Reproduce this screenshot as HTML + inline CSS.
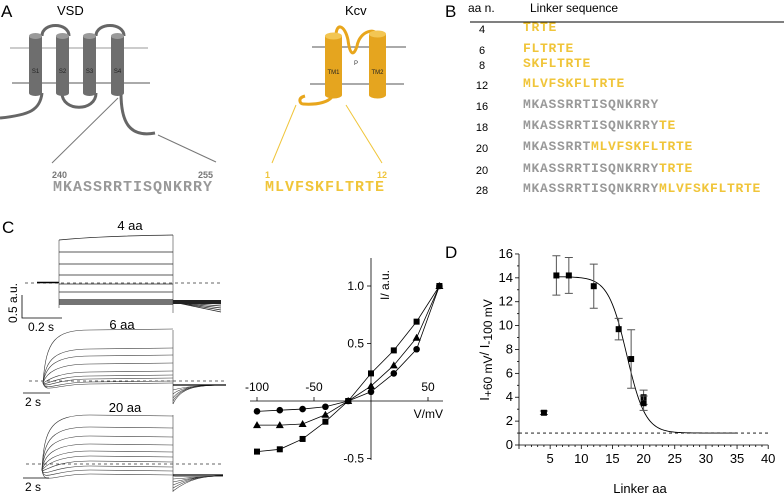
<!DOCTYPE html>
<html><head><meta charset="utf-8"><style>
body{margin:0;background:#fff;}
svg{display:block;font-family:"Liberation Sans",sans-serif;}
.mono{font-family:"Liberation Mono",monospace;font-weight:bold;}
</style></head><body>
<svg id="fig" width="784" height="497" viewBox="0 0 784 497">
<!-- Panel A -->
<g>
<text x="1" y="17" font-size="17">A</text>
<text x="57" y="15" font-size="13">VSD</text>
<line x1="10" y1="48" x2="148" y2="48" stroke="#999" stroke-width="1"/>
<line x1="12" y1="83" x2="150" y2="83" stroke="#555" stroke-width="1"/>
<path d="M42,36 C42,22 69,22 69,36 M96,36 C96,22 124,22 124,36 M62,93 C62,112 96,112 96,93 M0,118 C30,115 40,110 42,93 M121,93 C121,120 128,138 155,133" fill="none" stroke="#666" stroke-width="3"/>
<g>
<rect x="29" y="36" width="13" height="57" fill="#6e6e6e"/><ellipse cx="35.5" cy="36" rx="6.5" ry="3" fill="#9a9a9a"/><ellipse cx="35.5" cy="93" rx="6.5" ry="3" fill="#6e6e6e"/>
<rect x="56" y="36" width="13" height="57" fill="#6e6e6e"/><ellipse cx="62.5" cy="36" rx="6.5" ry="3" fill="#9a9a9a"/><ellipse cx="62.5" cy="93" rx="6.5" ry="3" fill="#6e6e6e"/>
<rect x="83" y="36" width="13" height="57" fill="#6e6e6e"/><ellipse cx="89.5" cy="36" rx="6.5" ry="3" fill="#9a9a9a"/><ellipse cx="89.5" cy="93" rx="6.5" ry="3" fill="#6e6e6e"/>
<rect x="111" y="36" width="13" height="57" fill="#6e6e6e"/><ellipse cx="117.5" cy="36" rx="6.5" ry="3" fill="#9a9a9a"/><ellipse cx="117.5" cy="93" rx="6.5" ry="3" fill="#6e6e6e"/>
<text x="35.5" y="73" font-size="6" text-anchor="middle" fill="#222">S1</text>
<text x="62.5" y="73" font-size="6" text-anchor="middle" fill="#222">S2</text>
<text x="89.5" y="73" font-size="6" text-anchor="middle" fill="#222">S3</text>
<text x="117.5" y="73" font-size="6" text-anchor="middle" fill="#222">S4</text>
</g>
<line x1="118" y1="98" x2="52" y2="163" stroke="#777" stroke-width="1"/>
<line x1="158" y1="135" x2="216" y2="162" stroke="#777" stroke-width="1"/>
<text x="52" y="178" font-size="9" font-weight="bold" fill="#777">240</text>
<text x="198" y="178" font-size="9" font-weight="bold" fill="#777">255</text>
<text x="53" y="191" class="mono" font-size="15" letter-spacing="1" fill="#999">MKASSRRTISQNKRRY</text>

<text x="345" y="15" font-size="13">Kcv</text>
<line x1="312" y1="47" x2="406" y2="47" stroke="#555" stroke-width="1"/>
<line x1="310" y1="84" x2="404" y2="84" stroke="#555" stroke-width="1"/>
<path d="M336,36 C336,22 345,25 348,40 C350,56 354,56 357,46 C360,30 376,28 377,35 M305,96 C297,98 300,104 303,104 C318,105 330,102 333,95" fill="none" stroke="#e8a61c" stroke-width="3"/>
<g>
<rect x="325" y="36" width="17" height="59" fill="#e5a51f"/><ellipse cx="333.5" cy="36" rx="8.5" ry="3.5" fill="#f3c653"/><ellipse cx="333.5" cy="95" rx="8.5" ry="3.5" fill="#e5a51f"/>
<rect x="369" y="34" width="17" height="61" fill="#e5a51f"/><ellipse cx="377.5" cy="34" rx="8.5" ry="3.5" fill="#f3c653"/><ellipse cx="377.5" cy="95" rx="8.5" ry="3.5" fill="#e5a51f"/>
<text x="333.5" y="74" font-size="6" text-anchor="middle" fill="#222">TM1</text>
<text x="377.5" y="74" font-size="6" text-anchor="middle" fill="#222">TM2</text>
<text x="356" y="65" font-size="6" text-anchor="middle" fill="#333">P</text>
</g>
<line x1="296" y1="105" x2="272" y2="163" stroke="#f0c53a" stroke-width="1"/>
<line x1="346" y1="105" x2="382" y2="163" stroke="#f0c53a" stroke-width="1"/>
<text x="265" y="178" font-size="9" font-weight="bold" fill="#f0c53a">1</text>
<text x="377" y="178" font-size="9" font-weight="bold" fill="#f0c53a">12</text>
<text x="265" y="191" class="mono" font-size="15" letter-spacing="1" fill="#f0c53a">MLVFSKFLTRTE</text>
</g>

<!-- Panel B -->
<g font-size="11">
<text x="445" y="17" font-size="17">B</text>
<text x="468" y="12" font-size="12">aa n.</text>
<text x="530" y="12" font-size="12">Linker sequence</text>
<line x1="470" y1="22" x2="784" y2="22" stroke="#000" stroke-width="1"/>
<g id="btable"></g>
</g>

<!-- Panel C -->
<g>
<text x="2" y="233" font-size="17">C</text>
<g id="traces"></g>
<g id="iv"></g>
</g>

<!-- Panel D -->
<g>
<text x="445" y="258" font-size="17">D</text>
<g id="dplot"></g>
</g>
</svg>
<script>
var NS="http://www.w3.org/2000/svg";
function mk(p,t,a){var e=document.createElementNS(NS,t);for(var k in a)e.setAttribute(k,a[k]);p.appendChild(e);return e;}

// Panel B data
var aaNums=[4,6,8,12,16,18,20,20,28];
var seqGray=["","","","","MKASSRRTISQNKRRY","MKASSRRTISQNKRRY","MKASSRRT","MKASSRRTISQNKRRY","MKASSRRTISQNKRRY"];
var seqYellow=["TRTE","FLTRTE","SKFLTRTE","MLVFSKFLTRTE","","TE","MLVFSKFLTRTE","TRTE","MLVFSKFLTRTE"];
var rowY=[33,54,69,89,110,131,152,174,194];

// IV data
var ivV=[-100,-80,-60,-40,-20,0,20,40,60];
var ivSquares=[-0.44,-0.42,-0.33,-0.18,0,0.24,0.44,0.69,1.0];
var ivTriangles=[-0.21,-0.21,-0.2,-0.12,0,0.13,0.31,0.55,1.0];
var ivCircles=[-0.09,-0.08,-0.07,-0.05,0,0.08,0.24,0.45,1.0];
var ivXTicks=[-100,-50,50];
var ivYTicks=[1.0,0.5,-0.5];

// D data
var linkerAa=[4,6,8,12,16,18,20,20];
var ratioMean=[2.7,14.2,14.2,13.3,9.7,7.2,4.0,3.5];
var ratioErr=[0.15,1.65,1.5,1.85,0.9,2.45,0.6,0.6];
var dXTicks=[5,10,15,20,25,30,35,40];
var dYTicks=[0,2,4,6,8,10,12,14,16];
var fitTop=[14.1], fitBottom=[1.0], fitMid=[17.3], fitSlope=[1.5];

// ---- Panel B
var bt=document.getElementById('btable');
for(var i=0;i<aaNums.length;i++){
  var n=mk(bt,'text',{x:482,y:rowY[i],'text-anchor':'middle','font-size':11});
  n.textContent=aaNums[i];
  
  
  var t=mk(bt,'text',{x:523,y:rowY[i]-2,'class':'mono','font-size':13,'letter-spacing':0.7});
  
  
  var s1=mk(t,'tspan',{fill:'#999'});s1.textContent=seqGray[i];
  var s2=mk(t,'tspan',{fill:'#f0c53a'});s2.textContent=seqYellow[i];
}

// ---- Traces (illustrative)
var tr=document.getElementById('traces');
function txt(p,x,y,s,fs,anc){var e=mk(p,'text',{x:x,y:y,'font-size':fs,'text-anchor':anc||'start'});e.textContent=s;return e;}
txt(tr,130,230,'4 aa',13,'middle');
txt(tr,122,329,'6 aa',13,'middle');
txt(tr,125,412,'20 aa',13,'middle');
// 4aa
mk(tr,'line',{x1:25,y1:283,x2:222,y2:283,stroke:'#333','stroke-dasharray':'3,3','stroke-width':0.8});
mk(tr,'line',{x1:37,y1:282.5,x2:59,y2:282.5,stroke:'#000','stroke-width':1.5});
mk(tr,'line',{x1:59,y1:240,x2:59,y2:308,stroke:'#444','stroke-width':0.6});
mk(tr,'line',{x1:173,y1:235,x2:173,y2:313,stroke:'#444','stroke-width':0.6});
mk(tr,'path',{d:'M59,240 Q100,236 173,235',fill:'none',stroke:'#222','stroke-width':0.8});
[252,264,275,284,292,300,302,304].forEach(function(y){mk(tr,'line',{x1:59,y1:y,x2:173,y2:y,stroke:'#222','stroke-width':y>298?1.3:0.8});});
[302,304,306,308,310,312].forEach(function(y){mk(tr,'line',{x1:173,y1:302,x2:221,y2:y,stroke:'#222','stroke-width':0.7});});
mk(tr,'rect',{x:173,y:300,width:48,height:4,fill:'#222'});
mk(tr,'polyline',{points:'22,295 22,318 62,318',fill:'none',stroke:'#000','stroke-width':0.8});
var sb=txt(tr,0,0,'0.5 a.u.',12,'middle');sb.setAttribute('transform','translate(17,303) rotate(-90)');
txt(tr,28,331,'0.2 s',12);
// 6aa
mk(tr,'line',{x1:29,y1:381,x2:225,y2:381,stroke:'#333','stroke-dasharray':'3,3','stroke-width':0.8});
[330,349,356,364,372,376,379,382,384].forEach(function(y){mk(tr,'path',{d:'M43,383 C46,'+(y+10)+' 55,'+y+' 90,'+y+' L173,'+(y-1),fill:'none',stroke:'#333','stroke-width':0.6});});
mk(tr,'line',{x1:173,y1:330,x2:173,y2:404,stroke:'#444','stroke-width':0.6});
[390,394,398,401,404].forEach(function(y){mk(tr,'path',{d:'M173,'+y+' C180,388 195,385 226,385',fill:'none',stroke:'#333','stroke-width':0.6});});
mk(tr,'line',{x1:173,y1:385,x2:226,y2:385,stroke:'#000','stroke-width':1.2});
mk(tr,'line',{x1:23,y1:393,x2:50,y2:393,stroke:'#000','stroke-width':0.8});
txt(tr,25,406,'2 s',12);
// 20aa
mk(tr,'line',{x1:26,y1:464,x2:223,y2:464,stroke:'#333','stroke-dasharray':'3,3','stroke-width':0.8});
[415,427,436,444,451,456,461,466,470,474].forEach(function(y){mk(tr,'path',{d:'M42,470 C44,'+(y+12)+' 52,'+y+' 90,'+y+' L173,'+(y+1),fill:'none',stroke:'#333','stroke-width':0.6});});
mk(tr,'line',{x1:173,y1:415,x2:173,y2:492,stroke:'#444','stroke-width':0.6});
[476,479,482,485,488,491].forEach(function(y){mk(tr,'path',{d:'M173,'+y+' C190,478 205,476 223,476',fill:'none',stroke:'#333','stroke-width':0.6});});
mk(tr,'line',{x1:173,y1:475,x2:223,y2:475,stroke:'#000','stroke-width':1.2});
mk(tr,'line',{x1:23,y1:478,x2:49,y2:478,stroke:'#000','stroke-width':0.8});
txt(tr,25,491,'2 s',12);

// ---- IV plot
var iv=document.getElementById('iv');
function ivx(v){return 371+(v/50)*57;}
function ivy(i){return 401-i*115;}
mk(iv,'line',{x1:250,y1:ivy(0),x2:443,y2:ivy(0),stroke:'#000','stroke-width':0.8});
mk(iv,'line',{x1:ivx(0),y1:258,x2:ivx(0),y2:460,stroke:'#000','stroke-width':0.8});
ivXTicks.forEach(function(v){
  mk(iv,'line',{x1:ivx(v),y1:ivy(0),x2:ivx(v),y2:ivy(0)-4,stroke:'#000','stroke-width':0.8});
  var e=txt(iv,ivx(v),ivy(0)-10,String(v),12,'middle');
  
  
});
ivYTicks.forEach(function(v){
  mk(iv,'line',{x1:ivx(0),y1:ivy(v),x2:ivx(0)-4,y2:ivy(v),stroke:'#000','stroke-width':0.8});
  var e=txt(iv,ivx(0)-7,ivy(v)+4,v.toFixed(1),12,'end');
  
  
});
var vl=txt(iv,443,418,'V/mV',12,'end');


var il=txt(iv,0,0,'I/ a.u.',12,'middle');il.setAttribute('transform','translate(389,285) rotate(-90)');


function ivSeries(vals,shape,name){
  var pts=ivV.map(function(v,i){return ivx(v)+','+ivy(vals[i]);}).join(' ');
  var pl=mk(iv,'polyline',{points:pts,fill:'none',stroke:'#000','stroke-width':0.8});
  
  
  ivV.forEach(function(v,i){
    var x=ivx(v),y=ivy(vals[i]),m;
    if(shape==='sq')m=mk(iv,'rect',{x:x-3,y:y-3,width:6,height:6,fill:'#000'});
    else if(shape==='tri')m=mk(iv,'polygon',{points:(x)+','+(y-4)+' '+(x-4)+','+(y+3)+' '+(x+4)+','+(y+3),fill:'#000'});
    else m=mk(iv,'circle',{cx:x,cy:y,r:3.3,fill:'#000'});
    
    
  });
}
ivSeries(ivSquares,'sq','iv-squares');
ivSeries(ivTriangles,'tri','iv-triangles');
ivSeries(ivCircles,'ci','iv-circles');

// ---- Panel D
var dp=document.getElementById('dplot');
function dx(a){return 519+a*6.23;}
function dy(r){return 445-r*11.94;}
mk(dp,'line',{x1:dx(0),y1:dy(0),x2:dx(40),y2:dy(0),stroke:'#000','stroke-width':0.8});
mk(dp,'line',{x1:dx(0),y1:dy(0),x2:dx(0),y2:dy(16),stroke:'#000','stroke-width':0.8});
for(var a=0;a<=40;a++){var big=(a%5===0);mk(dp,'line',{x1:dx(a),y1:dy(0),x2:dx(a),y2:dy(0)+(big?4:2),stroke:'#000','stroke-width':0.8});}
dXTicks.forEach(function(a){
  var e=txt(dp,dx(a),dy(0)+18,String(a),13,'middle');
  
  
});
for(var r=0;r<=16;r++){mk(dp,'line',{x1:dx(0),y1:dy(r),x2:dx(0)-(r%2===0?4:2),y2:dy(r),stroke:'#000','stroke-width':0.8});}
dYTicks.forEach(function(r){
  var e=txt(dp,dx(0)-6,dy(r)+4,String(r),13,'end');
  
  
});
var xt=txt(dp,640,493,'Linker aa',13,'middle');


var yt=mk(dp,'text',{'font-size':13,'text-anchor':'middle',transform:'translate(489,350) rotate(-90)'});


var t1=mk(yt,'tspan',{});t1.textContent='I';
var t2=mk(yt,'tspan',{'font-size':12,dy:3});t2.textContent='+60 mV';
var t3=mk(yt,'tspan',{dy:-3});t3.textContent='/ I';
var t4=mk(yt,'tspan',{'font-size':12,dy:3});t4.textContent='-100 mV';
var ref=mk(dp,'line',{x1:dx(0),y1:dy(1),x2:dx(40),y2:dy(1),stroke:'#000','stroke-dasharray':'3,3','stroke-width':0.8});


var fp=[];
for(var a=6;a<=35;a+=0.25){var v=fitBottom[0]+(fitTop[0]-fitBottom[0])/(1+Math.exp((a-fitMid[0])/fitSlope[0]));fp.push(dx(a)+','+dy(v));}
var fit=mk(dp,'polyline',{points:fp.join(' '),fill:'none',stroke:'#000','stroke-width':0.9});


linkerAa.forEach(function(a,i){
  var x=dx(a),y1=dy(ratioMean[i]+ratioErr[i]),y2=dy(ratioMean[i]-ratioErr[i]);
  var eb=mk(dp,'path',{d:'M'+x+','+y1+' V'+y2+' M'+(x-4)+','+y1+' H'+(x+4)+' M'+(x-4)+','+y2+' H'+(x+4),stroke:'#555','stroke-width':1,fill:'none'});
  
  
  var m=mk(dp,'rect',{x:x-3,y:dy(ratioMean[i])-3,width:6,height:6,fill:'#000'});
  
  
});
</script>
</body></html>
